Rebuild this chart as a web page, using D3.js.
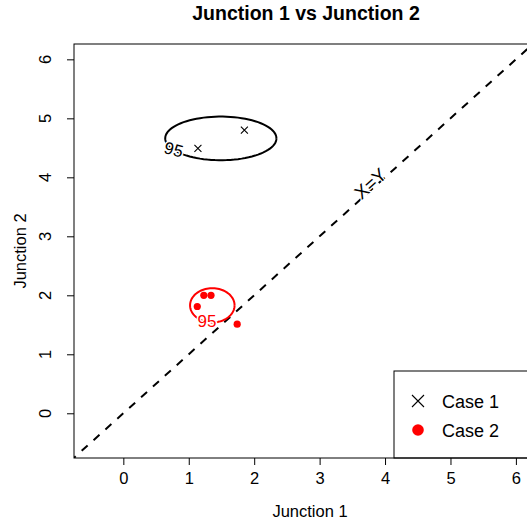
<!DOCTYPE html>
<html>
<head>
<meta charset="utf-8">
<title>Junction 1 vs Junction 2</title>
<script src="https://d3js.org/d3.v7.min.js"></script>
<style>
body { margin: 0; background: #fff; }
svg { display: block; }
text { font-family: "Liberation Sans", Arial, sans-serif; }
</style>
</head>
<body>
<div id="chart"></div>
<script>
// case 1 points (black x)
var case1X = [1.85, 1.14];
var case1Y = [4.80, 4.49];
// case 2 points (red dots)
var case2X = [1.23, 1.34, 1.13, 1.74];
var case2Y = [2.00, 2.00, 1.81, 1.51];
// 95% contours, approx as ellipses: centre x, centre y, radius x, radius y
var contourCx = [1.49, 1.36];
var contourCy = [4.66, 1.83];
var contourRx = [0.85, 0.34];
var contourRy = [0.37, 0.29];
var contourCol = ["black", "red"];
var contourLab = ["95", "95"];
var xTicks = [0, 1, 2, 3, 4, 5, 6];
var yTicks = [0, 1, 2, 3, 4, 5, 6];
var legendLab = ["Case 1", "Case 2"];

var w = 527, h = 525;
// note: "top" is reserved on window, so use pL/pT/pR/pB
var pL = 74, pT = 44, pR = 546, pB = 458;

var x = d3.scaleLinear().domain([-0.754, 6.46]).range([pL, pR]);
var y = d3.scaleLinear().domain([-0.758, 6.26]).range([pB, pT]);

var svg = d3.select("#chart").append("svg")
  .attr("width", w)
  .attr("height", h);

svg.append("defs").append("clipPath").attr("id", "plotclip")
  .append("rect")
    .attr("x", pL).attr("y", pT)
    .attr("width", pR - pL).attr("height", pB - pT);

// title + axis labels
svg.append("text")
  .attr("x", 306).attr("y", 20)
  .attr("text-anchor", "middle")
  .style("font-size", "19.5px").style("font-weight", "bold")
  .text("Junction 1 vs Junction 2");
svg.append("text")
  .attr("x", 310).attr("y", 517)
  .attr("text-anchor", "middle")
  .style("font-size", "16.5px")
  .text("Junction 1");
svg.append("text")
  .attr("transform", "translate(26," + ((pT + pB) / 2) + ") rotate(-90)")
  .attr("text-anchor", "middle")
  .style("font-size", "16.5px")
  .text("Junction 2");

// axes
var xAxis = svg.append("g").attr("transform", "translate(0," + pB + ")")
  .call(d3.axisBottom(x).tickValues(xTicks).tickSize(7).tickSizeOuter(0).tickPadding(7));
xAxis.select(".domain").remove();
xAxis.selectAll("text").style("font-size", "16.5px").style("font-family", "Liberation Sans, Arial, sans-serif")
  .attr("fill", "#000");
xAxis.selectAll("line").attr("stroke", "#000");

var yAxis = svg.append("g").attr("transform", "translate(" + pL + ",0)")
  .call(d3.axisLeft(y).tickValues(yTicks).tickSize(7).tickSizeOuter(0).tickFormat(""));
yAxis.select(".domain").remove();
yAxis.selectAll("line").attr("stroke", "#000");
svg.selectAll("text.ylab").data(yTicks).enter()
  .append("text")
    .attr("class", "ylab")
    .attr("transform", (d) => "translate(51," + y(d) + ") rotate(-90)")
    .attr("text-anchor", "middle")
    .style("font-size", "16.5px")
    .text((d) => d);

var plot = svg.append("g").attr("clip-path", "url(#plotclip)");

// x = y reference
plot.append("line")
  .attr("x1", x(-1)).attr("y1", y(-1))
  .attr("x2", x(7)).attr("y2", y(7))
  .attr("stroke", "#000").attr("stroke-width", 2)
  .attr("stroke-dasharray", "8,8");
var ang = Math.atan2(y(1) - y(0), x(1) - x(0)) * 180 / Math.PI;
plot.append("text")
  .attr("transform", "translate(" + (x(3.76) + 1) + "," + (y(3.76) - 8) + ") rotate(" + ang + ")")
  .attr("text-anchor", "middle")
  .attr("dominant-baseline", "central")
  .attr("fill", "#000")
  .attr("stroke", "#fff").attr("stroke-width", 2.5).style("paint-order", "stroke")
  .style("font-size", "18.5px")
  .text("X=Y");

// contours
var pathGen = d3.line();
var angles = d3.range(0, 361, 4);
contourCx.forEach(function(cx, i) {
  var pts = angles.map((a) => [x(cx + contourRx[i] * Math.cos(a * Math.PI / 180)),
                               y(contourCy[i] + contourRy[i] * Math.sin(a * Math.PI / 180))]);
  plot.append("path")
    .attr("d", pathGen(pts))
    .attr("fill", "none")
    .attr("stroke", contourCol[i])
    .attr("stroke-width", 2);
});
// contour labels sit on the lower left of each curve
var labAng = [212, 256];
var labRot = [15, 0];
contourLab.forEach(function(l, i) {
  var a = labAng[i] * Math.PI / 180;
  var lx = x(contourCx[i] + contourRx[i] * Math.cos(a));
  var ly = y(contourCy[i] + contourRy[i] * Math.sin(a));
  plot.append("text")
    .attr("transform", "translate(" + lx + "," + ly + ") rotate(" + labRot[i] + ")")
    .attr("text-anchor", "middle")
    .attr("dominant-baseline", "central")
    .attr("fill", contourCol[i])
    .attr("stroke", "#fff").attr("stroke-width", 3).style("paint-order", "stroke")
    .style("font-size", "17px")
    .text(l);
});

// case 1 crosses
var c1 = case1X.map((d, i) => [d, case1Y[i]]);
plot.selectAll("path.case1").data(c1).enter()
  .append("path")
    .attr("class", "case1")
    .attr("d", (d) => {
      var px = x(d[0]), py = y(d[1]), s = 3.5;
      return "M" + (px - s) + "," + (py - s) + "L" + (px + s) + "," + (py + s) +
             "M" + (px - s) + "," + (py + s) + "L" + (px + s) + "," + (py - s);
    })
    .attr("stroke", "#000").attr("stroke-width", 1.1);

// case 2 dots
var c2 = case2X.map((d, i) => [d, case2Y[i]]);
plot.selectAll("circle.case2").data(c2).enter()
  .append("circle")
    .attr("class", "case2")
    .attr("cx", (d) => x(d[0]))
    .attr("cy", (d) => y(d[1]))
    .attr("r", 3.6)
    .attr("fill", "red");

// legend
var lg = svg.append("g");
lg.append("rect")
  .attr("x", 394).attr("y", 371)
  .attr("width", 200).attr("height", pB - 371)
  .attr("fill", "#fff").attr("stroke", "#000").attr("stroke-width", 1);
var ly0 = [401, 430];
lg.append("path")
  .attr("d", "M412," + (ly0[0] - 6) + "L424," + (ly0[0] + 6) + "M412," + (ly0[0] + 6) + "L424," + (ly0[0] - 6))
  .attr("stroke", "#000").attr("stroke-width", 1.1);
lg.append("circle")
  .attr("cx", 418).attr("cy", ly0[1]).attr("r", 5.8).attr("fill", "red");
lg.selectAll("text").data(legendLab).enter()
  .append("text")
    .attr("x", 442)
    .attr("y", (d, i) => ly0[i] + 6.5)
    .style("font-size", "18px")
    .text((d) => d);

// plot box
svg.append("rect")
  .attr("x", pL).attr("y", pT)
  .attr("width", pR - pL).attr("height", pB - pT)
  .attr("fill", "none").attr("stroke", "#000").attr("stroke-width", 1);
</script>
</body>
</html>
